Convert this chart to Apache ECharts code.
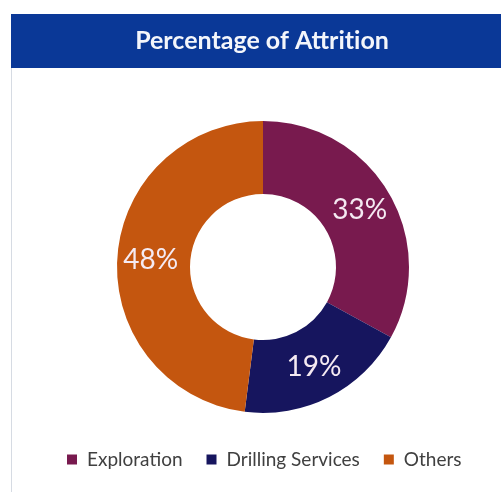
<!DOCTYPE html>
<html><head><meta charset="utf-8">
<script src="https://cdn.jsdelivr.net/npm/echarts@6/dist/echarts.min.js"></script>
<style>html,body{margin:0;padding:0;background:#fff}#c{width:501px;height:492px}</style>
</head><body><div id="c"></div>
<script>
const categories = ['Exploration', 'Drilling Services', 'Others'];
const values = [33, 19, 48];
const colors = ['#781a4e', '#16155e', '#c4560f'];
const titleText = 'Percentage of Attrit\u200Cion';
const chart = echarts.init(document.getElementById('c'));
chart.setOption({
  animation: false,
  graphic: [
    {type: 'rect', shape: {x: 11, y: 14, width: 490, height: 54}, style: {fill: '#0a3897'}},
    {type: 'line', shape: {x1: 11.5, y1: 68, x2: 11.5, y2: 492}, style: {stroke: '#d6dbe3', lineWidth: 1}},
    {type: 'text', x: 262, y: 41, style: {text: titleText, fill: '#f4f6fb', font: 'bold 25px Lato, sans-serif', align: 'center', verticalAlign: 'middle'}}
  ],
  legend: {
    top: 445, left: 62, itemWidth: 10, itemHeight: 10, itemGap: 24,
    icon: 'rect',
    textStyle: {fontSize: 19, color: '#404040', fontFamily: 'Lato, sans-serif', padding: [0, 0, 0, 5]},
    data: categories
  },
  series: [{
    type: 'pie',
    center: [263, 267],
    radius: [73, 146],
    startAngle: 90,
    clockwise: true,
    label: {position: 'inside', formatter: '{c}%', color: '#f5eaf2', fontSize: 28, fontFamily: 'Lato, sans-serif'},
    labelLine: {show: false},
    itemStyle: {borderWidth: 0},
    data: categories.map((n, i) => ({name: n, value: values[i], itemStyle: {color: colors[i]}}))
  }]
});
</script></body></html>
